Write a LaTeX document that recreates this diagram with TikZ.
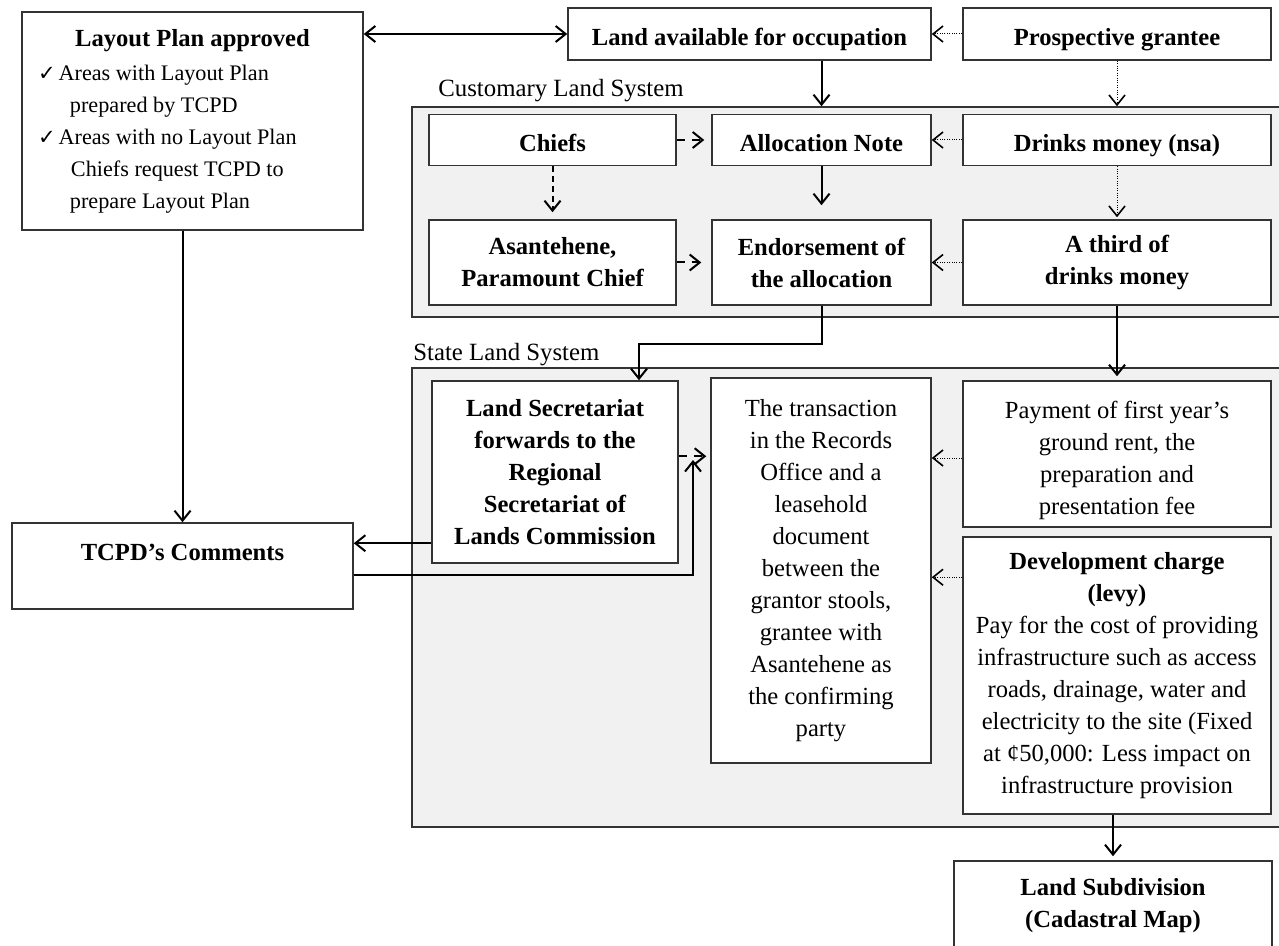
\documentclass[tikz,border=0pt]{standalone}
\usepackage{fontspec}
\setmainfont{Liberation Serif}
\newfontfamily\symfont{DejaVu Sans}
\usetikzlibrary{arrows.meta,calc}
\definecolor{boxline}{HTML}{333333}
\definecolor{panel}{HTML}{F1F1F1}
\begin{document}
\begin{tikzpicture}[x=0.5pt,y=-0.5pt,
  every node/.style={font=\fontsize{12.3}{16}\selectfont},
  box/.style={draw=boxline, line width=0.75pt, fill=white, inner sep=0pt, align=center},
  onebox/.style={box, text height=14pt, text depth=2.6pt, font=\fontsize{12.3}{16}\selectfont\bfseries},
  bbox/.style={box, font=\fontsize{12.3}{16}\selectfont\bfseries},
  panelbox/.style={draw=boxline, line width=0.75pt, fill=panel, inner sep=0pt},
  conn/.style={line width=1pt, -{Straight Barb[length=5pt,width=8pt]}},
  biconn/.style={line width=1pt, {Straight Barb[length=5pt,width=8pt]}-{Straight Barb[length=5pt,width=8pt]}},
  dashconn/.style={conn, dash pattern=on 4pt off 3.5pt},
  dotconn/.style={line width=0.5pt, dash pattern=on 0.5pt off 0.7pt, -{Straight Barb[length=5pt,width=8pt,line width=0.8pt]}},
  lbl/.style={anchor=base west, inner sep=0pt, font=\fontsize{12.4}{16}\selectfont}]
\useasboundingbox (0,0) rectangle (1279,946);

% panels
\node[panelbox, minimum width=439pt, minimum height=105pt] (cust) at (851,212) {};
\node[panelbox, minimum width=439pt, minimum height=229.5pt] (state) at (851,597.5) {};
\node[lbl] (custlbl) at (438,97) {Customary Land System};
\node[lbl] (statelbl) at (413,361) {State Land System};

% top row
\node[box, minimum width=170.5pt, minimum height=109pt] (layout) at (192.5,121) {%
\textbf{Layout Plan approved}\\[1pt]
{\fontsize{11.1}{16}\selectfont\makebox[154.5pt][l]{{\symfont\fontsize{10.5}{16}\selectfont ✓}\hspace{1.5pt}Areas with Layout Plan}}\\
{\fontsize{11.1}{16}\selectfont\makebox[154.5pt][l]{\hspace*{16pt}prepared by TCPD}}\\
{\fontsize{11.1}{16}\selectfont\makebox[154.5pt][l]{{\symfont\fontsize{10.5}{16}\selectfont ✓}\hspace{1.5pt}Areas with no Layout Plan}}\\
{\fontsize{11.1}{16}\selectfont\makebox[154.5pt][l]{\hspace*{16.5pt}Chiefs request TCPD to}}\\
{\fontsize{11.1}{16}\selectfont\makebox[154.5pt][l]{\hspace*{16pt}prepare Layout Plan}}};
\node[onebox, minimum width=181.5pt, minimum height=26pt] (landav) at (749.5,34) {Land available for occupation};
\node[onebox, minimum width=154pt, minimum height=26pt] (prosp) at (1117,34) {Prospective grantee};

% customary system
\node[onebox, minimum width=123.5pt, minimum height=25.5pt] (chiefs) at (552.5,140) {Chiefs};
\node[onebox, minimum width=109.5pt, minimum height=25.5pt] (alloc) at (821.5,140) {Allocation Note};
\node[onebox, minimum width=154pt, minimum height=25.5pt] (drinks) at (1117,140) {Drinks money (nsa)};
\node[bbox, minimum width=123.5pt, minimum height=42.5pt] (asant) at (552.5,262.5) {Asantehene,\\Paramount Chief};
\node[bbox, minimum width=109.5pt, minimum height=42.5pt] (endors) at (821.5,262.5) {Endorsement of\\the allocation};
\node[bbox, minimum width=154pt, minimum height=42.5pt] (third) at (1117,262.5) {A third of\\drinks money};

% state system
\node[bbox, minimum width=123pt, minimum height=91pt] (landsec) at (555,472) {Land Secretariat\\forwards to the\\Regional\\Secretariat of\\Lands Commission};
\node[box, minimum width=110pt, minimum height=192.5pt] (trans) at (821,570.5) {The transaction\\in the Records\\Office and a\\leasehold\\document\\between the\\grantor stools,\\grantee with\\Asantehene as\\the confirming\\party};
\node[box, minimum width=154pt, minimum height=73pt] (pay) at (1117,454) {\raisebox{-3pt}[\height][\depth]{\begin{tabular}{@{}c@{}}Payment of first year’s\\ground rent, the\\preparation and\\presentation fee\end{tabular}}};
\node[box, minimum width=154pt, minimum height=138.5pt] (dev) at (1117,675.5) {\textbf{Development charge}\\\textbf{(levy)}\\Pay for the cost of providing\\infrastructure such as access\\roads, drainage, water and\\electricity to the site (Fixed\\at ¢50,000: Less impact on\\infrastructure provision};

% outside
\node[bbox, minimum width=159pt, minimum height=45pt] (subdiv) at (1113,906) {Land Subdivision\\(Cadastral Map)};
\node[bbox, minimum width=170.5pt, minimum height=43pt] (tcpd) at (182.5,566) {\raisebox{3pt}[0pt][0pt]{TCPD’s Comments}};

% connectors
\draw[biconn] (layout.east |- landav.west) -- (landav.west);
\draw[dotconn] (prosp.west) -- (landav.east);
\draw[conn] (alloc.north |- landav.south) -- (alloc.north |- cust.north);
\draw[dotconn] (prosp.south) -- (prosp.south |- cust.north);
\draw[dashconn, shorten >=3.5pt] (chiefs.east) -- (alloc.west);
\draw[dotconn] (drinks.west) -- (alloc.east);
\draw[dashconn, dash pattern=on 3pt off 2pt, shorten >=3.5pt] (chiefs.south) -- (asant.north);
\draw[conn, shorten >=7pt] (alloc.south) -- (endors.north);
\draw[dotconn, shorten >=1pt] (drinks.south) -- (third.north);
\draw[dashconn, shorten >=5pt] (asant.east) -- (endors.west);
\draw[dotconn] (third.west) -- (endors.east);
\coordinate (j1) at (639,344);
\draw[conn] (endors.south) |- (j1) -- (j1 |- landsec.north);
\draw[conn, shorten >=2pt] (third.south) -- (pay.north);
\draw[conn] (layout.south -| tcpd.north) -- (tcpd.north);
\coordinate (ls1) at ($(landsec.north west)+(0,163)$);
\draw[conn] (ls1) -- (ls1 -| tcpd.east);
\coordinate (t1) at ($(tcpd.north east)+(0,53)$);
\coordinate (j2) at (693,460);
\draw[conn] (t1) -| (j2);
\coordinate (ls2) at ($(landsec.north east)+(0,76)$);
\draw[dashconn, shorten >=2pt] (ls2) -- (ls2 -| trans.west);
\coordinate (p1) at ($(pay.west)+(0,4)$);
\draw[dotconn] (p1) -- (p1 -| trans.east);
\coordinate (d1) at ($(dev.north west)+(0,41)$);
\draw[dotconn] (d1) -- (d1 -| trans.east);
\draw[conn, shorten >=2pt] (dev.south -| subdiv.north) -- (subdiv.north);
\end{tikzpicture}
\end{document}
